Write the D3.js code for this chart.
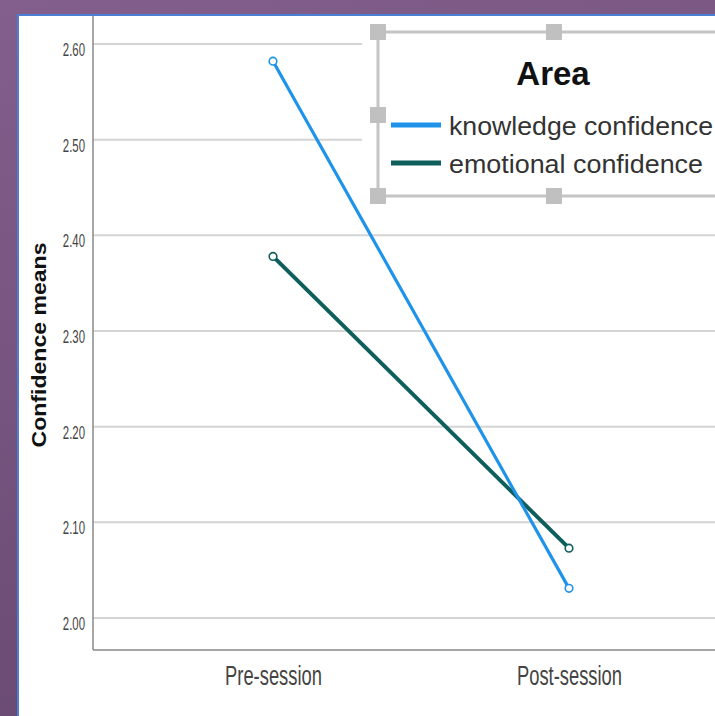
<!DOCTYPE html>
<html>
<head>
<meta charset="utf-8">
<script src="https://cdn.jsdelivr.net/npm/d3@7"></script>
<style>
  body { margin: 0; background: #76567f; }
  svg { display: block; }
</style>
</head>
<body>
<div id="chart"></div>
<script>
// Medias de confianza antes / después de la sesión
const sessions = ["Pre-session", "Post-session"];
const knowledge = [2.582, 2.031];
const emotional = [2.378, 2.073];
const yTicks = [2.00, 2.10, 2.20, 2.30, 2.40, 2.50, 2.60];
const seriesNames = ["knowledge confidence", "emotional confidence"];
const seriesColors = ["#1f93ea", "#0e5e5c"];

const width = 715, height = 716;
const font = "'Liberation Sans', Arial, sans-serif";

const svg = d3.select("#chart")
  .append("svg")
  .attr("width", width)
  .attr("height", height);

// fondo morado
const defs = svg.append("defs");
const grad = defs.append("linearGradient").attr("id", "bg")
  .attr("x1", 0).attr("y1", 0).attr("x2", 0.3).attr("y2", 1);
grad.append("stop").attr("offset", 0).attr("stop-color", "#825f8c");
grad.append("stop").attr("offset", 1).attr("stop-color", "#694a72");
svg.append("rect").attr("width", width).attr("height", height).attr("fill", "url(#bg)");

// panel blanco
svg.append("rect")
  .attr("x", 19).attr("y", 16).attr("width", width - 19).attr("height", height - 16)
  .attr("fill", "#fff");
svg.append("path")
  .attr("d", `M18,${height} V15 H${width}`)
  .attr("fill", "none").attr("stroke", "#4b7fd3").attr("stroke-width", 2);

const x = d3.scalePoint().domain(sessions).range([273, 569]);
const y = d3.scaleLinear().domain([2.0, 2.6]).range([618, 44]);

const plotLeft = 93, plotRight = width, plotBottom = 650;

// rejilla
svg.append("g")
  .selectAll("line")
  .data(yTicks)
  .join("line")
  .attr("x1", plotLeft).attr("x2", plotRight)
  .attr("y1", d => y(d)).attr("y2", d => y(d))
  .attr("stroke", "#d4d4d4").attr("stroke-width", 2);

// eje Y (texto estrecho y alto como en SPSS)
const ySx = 0.6;
const yAxis = svg.append("g")
  .attr("transform", `translate(${plotLeft},0)`)
  .call(d3.axisLeft(y).tickValues(yTicks).tickFormat(d3.format(".2f")).tickSize(0));
yAxis.select(".domain").remove();
yAxis.selectAll("text")
  .attr("font-family", font)
  .attr("font-size", 19)
  .attr("fill", "#444")
  .attr("x", -8 / ySx)
  .attr("dy", "0.6em")
  .attr("transform", `scale(${ySx},1)`);

svg.append("line")
  .attr("x1", plotLeft).attr("x2", plotLeft).attr("y1", 16).attr("y2", plotBottom)
  .attr("stroke", "#888").attr("stroke-width", 1.5);

// eje X
const xAxis = svg.append("g")
  .attr("transform", `translate(0,${plotBottom})`)
  .call(d3.axisBottom(x).tickSize(0));
xAxis.select(".domain").remove();
xAxis.selectAll("text")
  .attr("font-family", font)
  .attr("font-size", 27)
  .attr("fill", "#444")
  .attr("y", 35)
  .attr("dy", 0)
  .attr("transform", "scale(0.68,1)");
svg.append("line")
  .attr("x1", plotLeft).attr("x2", plotRight).attr("y1", plotBottom).attr("y2", plotBottom)
  .attr("stroke", "#888").attr("stroke-width", 1.5);

svg.append("text")
  .attr("transform", `translate(46,345) rotate(-90)`)
  .attr("text-anchor", "middle")
  .attr("font-family", font)
  .attr("font-weight", "bold")
  .attr("font-size", 21)
  .attr("textLength", 205)
  .attr("lengthAdjust", "spacingAndGlyphs")
  .attr("fill", "#111")
  .text("Confidence means");

// líneas
const series = [knowledge, emotional].map((vals, i) => ({
  name: seriesNames[i], color: seriesColors[i],
  points: vals.map((v, j) => ({ s: sessions[j], v }))
}));
const line = d3.line().x(d => x(d.s)).y(d => y(d.v));

const g = svg.append("g");
series.slice().reverse().forEach((s, k) => {
  g.append("path")
    .attr("d", line(s.points))
    .attr("fill", "none")
    .attr("stroke", s.color)
    .attr("stroke-width", k === 0 ? 4 : 3.2);
  g.selectAll(null)
    .data(s.points)
    .join("circle")
    .attr("cx", d => x(d.s)).attr("cy", d => y(d.v))
    .attr("r", 3.8)
    .attr("fill", "#fff")
    .attr("stroke", s.color)
    .attr("stroke-width", 1.6);
});

// leyenda
const lg = svg.append("g");
lg.append("rect")
  .attr("x", 362).attr("y", 24).attr("width", 400).attr("height", 186)
  .attr("fill", "#fff");
lg.append("rect")
  .attr("x", 378).attr("y", 32).attr("width", 400).attr("height", 164)
  .attr("fill", "none").attr("stroke", "#c4c4c4").attr("stroke-width", 3);
lg.selectAll(".handle")
  .data([[378, 32], [554, 32], [378, 115], [378, 196], [554, 196]])
  .join("rect")
  .attr("x", d => d[0] - 8).attr("y", d => d[1] - 8)
  .attr("width", 16).attr("height", 16)
  .attr("fill", "#c0c0c0");
lg.append("text")
  .attr("x", 553).attr("y", 85)
  .attr("text-anchor", "middle")
  .attr("font-family", font)
  .attr("font-weight", "bold")
  .attr("font-size", 33)
  .attr("fill", "#111")
  .text("Area");
const legendTextLen = [264, 254];
series.forEach((s, i) => {
  const ly = 125 + i * 38;
  lg.append("line")
    .attr("x1", 391).attr("x2", 441).attr("y1", ly).attr("y2", ly)
    .attr("stroke", s.color).attr("stroke-width", 5);
  lg.append("text")
    .attr("x", 449).attr("y", ly + 10)
    .attr("font-family", font)
    .attr("font-size", 26)
    .attr("textLength", legendTextLen[i])
    .attr("lengthAdjust", "spacingAndGlyphs")
    .attr("fill", "#333")
    .text(s.name);
});
</script>
</body>
</html>
